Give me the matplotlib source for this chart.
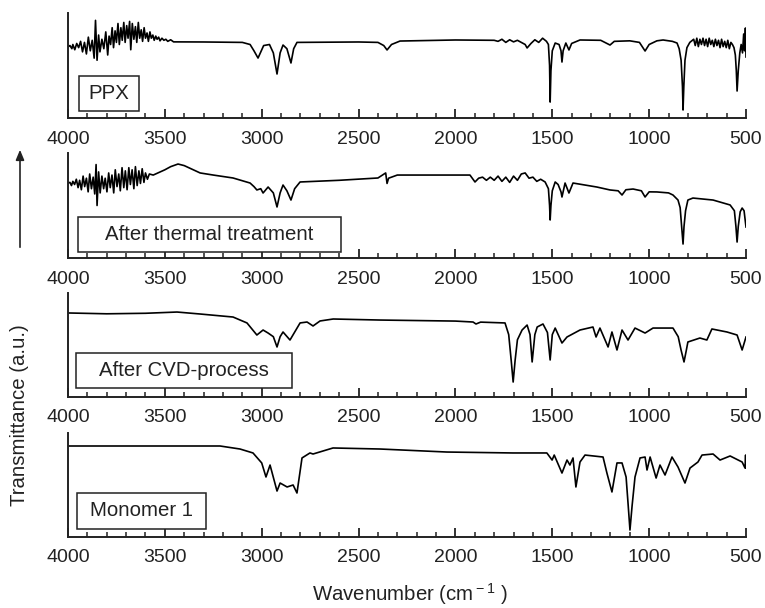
import numpy as np
import matplotlib;matplotlib.use('Agg');import matplotlib.pyplot as plt
from matplotlib.patches import Rectangle,FancyArrowPatch
from matplotlib.ticker import MultipleLocator
plt.rcParams['font.family']=['Liberation Sans','DejaVu Sans']
plt.rcParams['mathtext.fontset']='custom';plt.rcParams['mathtext.rm']='Liberation Sans'
INK='#222222'

# spectra, transmittance in a.u. (fraction of panel height)
ppx_wn=[4000,3990,3980,3975,3965,3955,3945,3935,3925,3915,3905,3895,3885,3875,3865,3858,3850,3842,3835,3825,3815,3805,3795,3788,3780,3772,3765,3757,3750,3742,3735,3727,3720,3712,3705,3697,3690,3682,3676,3668,3660,3652,3645,3637,3630,3622,3615,3607,3600,3592,3585,3577,3570,3562,3555,3547,3540,3532,3525,3515,3505,3495,3485,3470,3455,
        3300,3100,3060,3040,3019,3000,2990,2960,2940,2921,2905,2890,2870,2849,2835,2818,2500,2400,2370,2353,2330,2286,2000,1800,1780,1760,1740,1720,1700,1680,1660,1640,1630,1610,1590,1570,1550,1530,1520,1514,1511,1507,1500,1485,1465,1455,1450,1444,1430,1414,1400,1357,1250,1202,1180,1100,1050,1021,1000,960,928,880,856,845,835,828,825,821,815,805,790,
        770,762,754,746,738,730,722,714,706,698,690,682,674,666,658,650,642,634,626,618,610,602,594,586,578,570,562,555,550,546,540,532,525,518,512,507,503,500]
ppx_t=[0.676,0.69,0.66,0.70,0.65,0.71,0.67,0.73,0.63,0.72,0.61,0.77,0.64,0.74,0.57,0.93,0.55,0.79,0.63,0.75,0.66,0.82,0.60,0.78,0.70,0.86,0.67,0.83,0.72,0.90,0.70,0.86,0.74,0.91,0.72,0.88,0.76,0.92,0.65,0.90,0.75,0.87,0.72,0.91,0.76,0.84,0.73,0.86,0.76,0.81,0.73,0.82,0.76,0.79,0.74,0.78,0.75,0.77,0.735,0.76,0.74,0.75,0.73,0.745,0.725,
       0.724,0.72,0.70,0.64,0.571,0.65,0.69,0.70,0.62,0.419,0.62,0.695,0.66,0.524,0.66,0.72,0.724,0.72,0.69,0.648,0.70,0.733,0.743,0.74,0.73,0.75,0.72,0.745,0.725,0.74,0.72,0.70,0.667,0.71,0.745,0.72,0.76,0.73,0.70,0.50,0.152,0.45,0.64,0.714,0.70,0.64,0.533,0.64,0.714,0.648,0.71,0.743,0.74,0.695,0.73,0.735,0.72,0.638,0.70,0.735,0.743,0.73,0.714,0.66,0.55,0.30,0.076,0.30,0.55,0.67,0.72,
       0.75,0.69,0.76,0.68,0.75,0.70,0.76,0.69,0.75,0.68,0.76,0.70,0.74,0.68,0.75,0.69,0.74,0.67,0.75,0.68,0.73,0.67,0.74,0.66,0.72,0.70,0.67,0.60,0.45,0.257,0.45,0.62,0.70,0.62,0.80,0.64,0.857,0.581]

thr_wn=[4000,3990,3982,3975,3966,3957,3948,3940,3931,3922,3914,3905,3896,3888,3879,3870,3862,3855,3850,3842,3834,3825,3816,3808,3799,3790,3782,3773,3764,3756,3747,3738,3730,3721,3712,3704,3695,3686,3678,3669,3660,3652,3643,3634,3626,3617,3608,3600,3590,3580,3560,3500,3470,3432,3400,3318,3250,3148,3060,3040,3025,3005,2993,2967,2940,2921,2905,2890,2870,2849,2830,2802,2600,2400,2360,2353,2345,2300,2100,1925,1899,1880,
        1860,1840,1820,1800,1780,1760,1740,1720,1700,1680,1660,1640,1620,1600,1580,1560,1537,1520,1514,1511,1507,1500,1485,1470,1455,1450,1444,1434,1414,1393,1270,1202,1160,1140,1120,1083,1040,1021,1000,960,900,877,851,840,832,825,820,812,800,774,670,582,560,552,546,540,530,520,510,500]
thr_t=[0.714,0.72,0.69,0.73,0.70,0.75,0.67,0.74,0.65,0.78,0.68,0.76,0.63,0.80,0.66,0.77,0.61,0.89,0.50,0.82,0.62,0.78,0.66,0.76,0.63,0.81,0.67,0.79,0.62,0.84,0.68,0.80,0.64,0.86,0.67,0.83,0.65,0.86,0.70,0.84,0.66,0.87,0.69,0.83,0.71,0.85,0.72,0.81,0.75,0.80,0.79,0.84,0.87,0.895,0.88,0.81,0.79,0.762,0.714,0.68,0.648,0.66,0.619,0.676,0.62,0.486,0.62,0.695,0.64,0.552,0.66,0.724,0.74,0.762,0.81,0.71,0.76,0.79,0.79,0.79,0.724,0.76,
       0.77,0.74,0.77,0.74,0.78,0.73,0.77,0.72,0.78,0.74,0.80,0.81,0.76,0.77,0.73,0.75,0.724,0.66,0.50,0.362,0.50,0.64,0.724,0.70,0.63,0.581,0.63,0.714,0.619,0.714,0.676,0.648,0.64,0.60,0.65,0.657,0.64,0.581,0.63,0.629,0.62,0.60,0.552,0.48,0.30,0.133,0.30,0.45,0.552,0.571,0.552,0.505,0.45,0.30,0.152,0.30,0.44,0.476,0.45,0.295]

cvd_wn=[4000,3800,3600,3437,3318,3148,3076,3025,2993,2967,2940,2921,2905,2890,2854,2802,2766,2735,2699,2631,2389,2000,1909,1894,1870,1744,1725,1712,1702,1692,1680,1656,1630,1615,1604,1590,1578,1548,1525,1511,1500,1485,1450,1424,1357,1290,1274,1254,1212,1192,1166,1140,1109,1073,1021,980,877,850,835,820,808,800,738,702,676,598,546,520,500]
cvd_t=[0.808,0.80,0.805,0.817,0.798,0.769,0.712,0.596,0.644,0.615,0.58,0.481,0.58,0.625,0.548,0.712,0.721,0.683,0.731,0.75,0.74,0.73,0.721,0.702,0.72,0.712,0.60,0.35,0.144,0.35,0.55,0.644,0.692,0.60,0.337,0.60,0.673,0.702,0.62,0.356,0.60,0.663,0.519,0.577,0.644,0.673,0.577,0.663,0.481,0.625,0.452,0.644,0.548,0.663,0.615,0.663,0.663,0.58,0.45,0.337,0.45,0.529,0.567,0.548,0.654,0.625,0.596,0.452,0.577]

mon_wn=[4000,3215,3112,3045,3000,2978,2957,2921,2905,2869,2838,2818,2792,2751,2735,2632,2389,2044,1703,1528,1501,1490,1450,1424,1409,1393,1378,1357,1331,1238,1218,1192,1166,1140,1119,1108,1099,1088,1073,1047,1021,1011,995,964,944,918,882,851,815,789,748,727,670,634,582,520,505,502,500]
mon_t=[0.875,0.875,0.846,0.808,0.712,0.577,0.692,0.442,0.519,0.481,0.50,0.423,0.76,0.808,0.798,0.856,0.846,0.817,0.808,0.808,0.74,0.788,0.615,0.74,0.692,0.76,0.481,0.721,0.788,0.769,0.615,0.433,0.712,0.712,0.577,0.30,0.067,0.30,0.577,0.76,0.769,0.644,0.769,0.567,0.692,0.596,0.769,0.673,0.519,0.663,0.721,0.788,0.798,0.74,0.779,0.721,0.663,0.788,0.663]

labels=['PPX','After thermal treatment','After CVD-process','Monomer 1']
series=[(ppx_wn,ppx_t),(thr_wn,thr_t),(cvd_wn,cvd_t),(mon_wn,mon_t)]

W,H=765,608
fig=plt.figure(figsize=(W/100,H/100),dpi=100)
# panel rows in pixels (top,bottom) and label boxes (x0,x1,y0,y1) in pixels
rows=[(13,118),(153,258),(293,397),(433,537)]
boxes=[(79,139,76,111),(78,341,217,252),(76,292,353,388),(77,206,493,529)]
L,R=68,746
for (wn,t),lab,(top,bot),(bx0,bx1,by0,by1) in zip(series,labels,rows,boxes):
    ax=fig.add_axes([L/W,1-bot/H,(R-L)/W,(bot-top)/H])
    ax.plot(wn,t,color='black',lw=1.2,solid_joinstyle='round')
    ax.set_xlim(4000,500);ax.set_ylim(0,1)
    for s in ('top','right'):ax.spines[s].set_visible(False)
    for s in ('left','bottom'):ax.spines[s].set_linewidth(1.4);ax.spines[s].set_color(INK)
    ax.set_yticks([])
    ax.xaxis.set_major_locator(MultipleLocator(500));ax.xaxis.set_minor_locator(MultipleLocator(100))
    ax.tick_params(axis='x',which='major',direction='in',length=6.5,width=1.3,color=INK,labelcolor=INK,labelsize=14,pad=9)
    ax.tick_params(axis='x',which='minor',direction='in',length=3.5,width=1.1,color=INK)
    h=bot-top
    ax.add_patch(Rectangle(((bx0-L)/(R-L),(bot-by1)/h),(bx1-bx0)/(R-L),(by1-by0)/h,transform=ax.transAxes,
                           facecolor='white',edgecolor=INK,lw=1.1,zorder=3,clip_on=False))
    ax.text(((bx0+bx1)/2-L)/(R-L),(bot-(by0+by1)/2)/h,lab,transform=ax.transAxes,ha='center',va='center',fontsize=14.7,color=INK,zorder=4)

fig.text(20/W,1-415/H,'Transmittance (a.u.)',rotation=90,ha='center',va='center',fontsize=14.7,color=INK)
fig.text(410/W,1-594/H,r'Wavenumber (cm$^{\rm -1}$ )',ha='center',va='center',fontsize=14.7,color=INK)
fig.add_artist(FancyArrowPatch((20/W,1-250/H),(20/W,1-147/H),transform=fig.transFigure,
               arrowstyle='-|>,head_length=6,head_width=2.5',color=INK,lw=1.2))
fig.savefig('out.png',dpi=100)
